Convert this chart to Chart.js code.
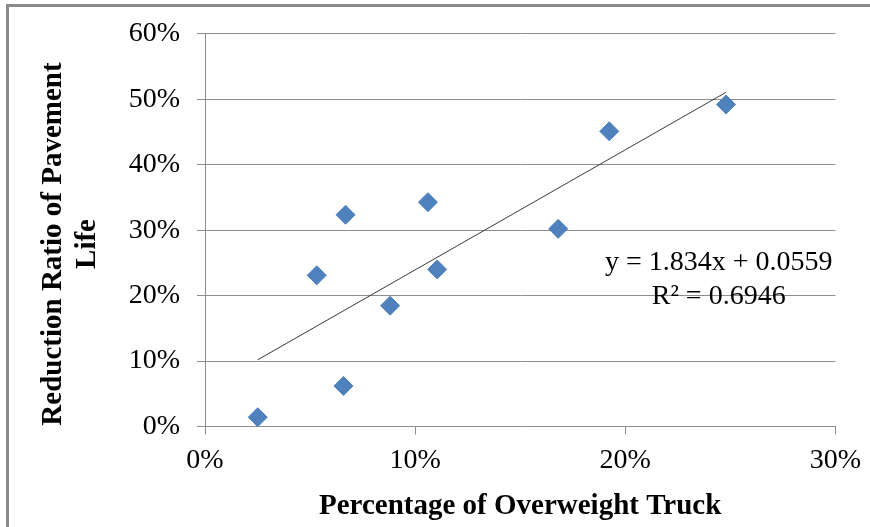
<!DOCTYPE html>
<html>
<head>
<meta charset="utf-8">
<script src="https://cdn.jsdelivr.net/npm/chart.js@4/dist/chart.umd.min.js"></script>
<style>
  html, body { margin: 0; padding: 0; background: #fff; }
  #wrap { width: 870px; height: 527px; }
</style>
</head>
<body>
<div id="wrap"><canvas id="truckChart" width="870" height="527"></canvas></div>
<script>
// Values (fractions, shown as %)
const overweightShare = [0.0251, 0.0532, 0.0669, 0.0659, 0.0881, 0.1061, 0.1105, 0.1681, 0.1924, 0.2480];
const lifeReduction   = [0.0142, 0.2310, 0.3235, 0.0620, 0.1846, 0.3428, 0.2400, 0.3020, 0.4510, 0.4920];

// Linear trendline end points (as drawn)
const trendX = [0.0251, 0.2480];
const trendY = [0.1019, 0.5107];

const xTickValues = [0, 0.1, 0.2, 0.3];
const yTickValues = [0, 0.1, 0.2, 0.3, 0.4, 0.5, 0.6];

const trendLabel = ['y = 1.834x + 0.0559', 'R\u00b2 = 0.6946'];
const xTitle = 'Percentage of Overweight Truck';
const yTitle = ['Reduction Ratio of Pavement', 'Life'];

const serif = '"Liberation Serif", "Times New Roman", serif';
const gridGray = '#8e8e8e';
const pct = value => Math.round(value * 100) + '%';

// Frame, rotated y title and the trendline equation
const decorations = {
    id: 'decorations',
    beforeDraw(chart) {
        const ctx = chart.ctx;
        ctx.save();
        ctx.fillStyle = '#fff';
        ctx.fillRect(0, 0, chart.width, chart.height);
        ctx.strokeStyle = '#8a8a8a';
        ctx.lineWidth = 3;
        ctx.beginPath();
        ctx.moveTo(7.5, chart.height);
        ctx.lineTo(7.5, 5.5);
        ctx.lineTo(chart.width, 5.5);
        ctx.stroke();
        ctx.restore();
    },
    afterDraw(chart) {
        const { ctx, scales: { x, y } } = chart;
        ctx.save();
        ctx.fillStyle = '#000';
        ctx.textAlign = 'center';
        ctx.textBaseline = 'middle';

        ctx.font = 'bold 29px ' + serif;
        ctx.translate(0, 244);
        ctx.rotate(-Math.PI / 2);
        yTitle.forEach((line, i) => ctx.fillText(line, 0, 54 + i * 34));
        ctx.restore();

        ctx.save();
        ctx.fillStyle = '#000';
        ctx.textAlign = 'center';
        ctx.textBaseline = 'middle';
        ctx.font = '28px ' + serif;
        const cx = x.getPixelForValue(0.2445);
        ctx.fillText(trendLabel[0], cx, y.getPixelForValue(0.25));
        ctx.fillText(trendLabel[1], cx, y.getPixelForValue(0.199));
        ctx.restore();
    }
};

const ctx = document.getElementById('truckChart').getContext('2d');

new Chart(ctx, {
    type: 'scatter',
    data: {
        datasets: [{
            label: 'Trend',
            data: trendX.map((v, i) => ({ x: v, y: trendY[i] })),
            showLine: true,
            borderColor: '#3a3a3a',
            borderWidth: 1,
            pointRadius: 0,
            fill: false,
            order: 0
        }, {
            label: 'Reduction ratio',
            data: overweightShare.map((v, i) => ({ x: v, y: lifeReduction[i] })),
            pointStyle: 'rectRot',
            pointRadius: 9.5,
            backgroundColor: '#4F81BD',
            borderColor: '#4F81BD',
            borderWidth: 1,
            order: 1
        }]
    },
    options: {
        responsive: false,
        animation: false,
        layout: {
            padding: { top: 33, right: 29, left: 0, bottom: 0 }
        },
        scales: {
            x: {
                type: 'linear',
                min: 0,
                max: 0.3,
                afterBuildTicks: scale => { scale.ticks = xTickValues.map(v => ({ value: v })); },
                afterFit: scale => { scale.height = 100.5; },
                grid: { drawOnChartArea: false, drawTicks: true, tickLength: 8, color: gridGray },
                border: { color: gridGray },
                ticks: {
                    callback: pct,
                    color: '#000',
                    padding: 9,
                    maxRotation: 0,
                    font: { family: serif, size: 28 }
                },
                title: {
                    display: true,
                    text: xTitle,
                    color: '#000',
                    padding: { top: 0, bottom: 3 },
                    font: { family: serif, size: 29, weight: 'bold' }
                }
            },
            y: {
                type: 'linear',
                min: 0,
                max: 0.6,
                afterBuildTicks: scale => { scale.ticks = yTickValues.map(v => ({ value: v })); },
                afterFit: scale => { scale.width = 205; },
                grid: { color: gridGray, tickLength: 8 },
                border: { color: gridGray },
                ticks: {
                    callback: pct,
                    color: '#000',
                    padding: 17,
                    font: { family: serif, size: 28 }
                }
            }
        },
        plugins: {
            legend: { display: false },
            tooltip: { enabled: false }
        }
    },
    plugins: [decorations]
});
</script>
</body>
</html>
